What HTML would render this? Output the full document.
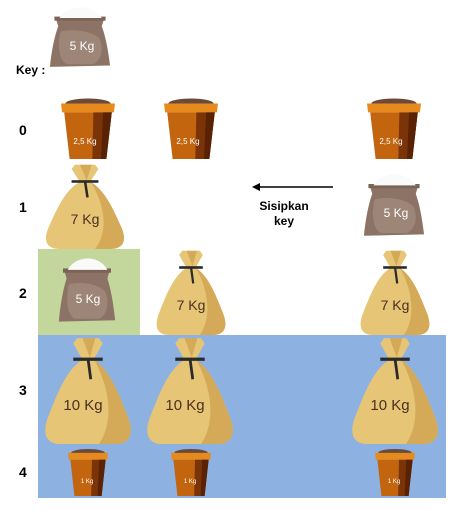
<!DOCTYPE html>
<html><head><meta charset="utf-8"><style>
body{margin:0;background:#fff;width:462px;height:505px;overflow:hidden}
text{font-family:"Liberation Sans",sans-serif}
</style></head><body>
<svg width="462" height="505" viewBox="0 0 462 505">
<defs>
<g id="bag">
<path d="M38,2 L62,2 L66,7 L56,22 C72,30 82,50 92,72 C102,92 94,100 80,100 L20,100 C6,100 -2,92 8,72 C18,50 28,30 44,22 L34,7 Z" fill="#e6c577"/>
<path d="M56,22 C72,30 82,50 92,72 C102,92 94,100 80,100 L62,100 C78,80 74,50 58,24 Z" fill="#d4aa59"/>
<path d="M44,2 L52,20 L58,2 Z" fill="#d4aa59"/>
<rect x="34" y="20" width="32" height="3" fill="#2a2a2a"/>
<path d="M50,21 L53,40" stroke="#2a2a2a" stroke-width="3"/>
</g>
<g id="sack">
<path d="M12,22 L88,22 L84,34 C92,55 95,78 97,92 L3,94 C5,75 9,52 16,34 Z" fill="#8c7365"/>
<path d="M20,42 C40,37 70,42 80,52 C88,66 84,85 70,90 L30,90 C15,85 15,56 20,42 Z" fill="#9d8578"/>
<rect x="10" y="20" width="80" height="6" fill="#7a6357"/>
<path d="M18,22 C30,2 70,0 84,22 Z" fill="#fafafa"/>
</g>
<g id="pot">
<ellipse cx="50" cy="12" rx="42" ry="8" fill="#6b4a3a"/>
<path d="M0,12 L100,12 L98,26 L2,26 Z" fill="#e68a1e"/>
<path d="M6,26 L94,26 L84,100 L16,100 Z" fill="#c2650e"/>
<path d="M60,26 L94,26 L84,100 L58,100 Z" fill="#7a3408"/>
<path d="M78,26 L94,26 L84,100 L74,100 Z" fill="#5a2204"/>
</g>
</defs>
<rect x="38" y="249" width="102" height="86" fill="#c3d69b"/>
<rect x="38" y="335" width="408" height="163" fill="#8db1e0"/>

<g>
<use href="#sack" transform="translate(48,3) scale(0.64,0.68)"/>
<text x="82" y="50" font-size="12" fill="#fff" text-anchor="middle">5 Kg</text>
</g>
<text x="16" y="74" font-size="12" font-weight="bold">Key :</text>

<g font-size="14" font-weight="bold">
<text x="19" y="135">0</text><text x="19" y="212">1</text><text x="19" y="298">2</text><text x="19" y="395">3</text><text x="19" y="477">4</text>
</g>

<g>
<use href="#pot" transform="translate(61,96) scale(0.54,0.63)"/>
<use href="#pot" transform="translate(164,96) scale(0.54,0.63)"/>
<use href="#pot" transform="translate(367,96) scale(0.54,0.63)"/>
<g font-size="8" fill="#fff" text-anchor="middle"><text x="85" y="144">2,5 Kg</text><text x="188" y="144">2,5 Kg</text><text x="391" y="144">2,5 Kg</text></g>
</g>

<g>
<use href="#bag" transform="translate(43,163) scale(0.84,0.86)"/>
<text x="85" y="224" font-size="14" fill="#4a3020" text-anchor="middle">7 Kg</text>
<use href="#sack" transform="translate(362,170) scale(0.64,0.7)"/>
<text x="396" y="217" font-size="12" fill="#fff" text-anchor="middle">5 Kg</text>
</g>
<g>
<line x1="333" y1="187" x2="258" y2="187" stroke="#000" stroke-width="1.5"/>
<path d="M252,187 L260,183 L260,191 Z" fill="#000"/>
</g>
<text x="284" y="210" font-size="12" font-weight="bold" text-anchor="middle"><tspan x="284">Sisipkan</tspan><tspan x="284" dy="15">key</tspan></text>

<g>
<use href="#sack" transform="translate(57,254) scale(0.6,0.72)"/>
<text x="88" y="303" font-size="12" fill="#fff" text-anchor="middle">5 Kg</text>
<use href="#bag" transform="translate(154,249) scale(0.74,0.86)"/>
<use href="#bag" transform="translate(358,249) scale(0.74,0.86)"/>
<g font-size="14" fill="#4a3020" text-anchor="middle"><text x="191" y="310">7 Kg</text><text x="395" y="310">7 Kg</text></g>
</g>

<g>
<use href="#bag" transform="translate(42,336) scale(0.92,1.08)"/>
<use href="#bag" transform="translate(144,336) scale(0.92,1.08)"/>
<use href="#bag" transform="translate(349,336) scale(0.92,1.08)"/>
<g font-size="15" fill="#4a3020" text-anchor="middle"><text x="83" y="410">10 Kg</text><text x="185" y="410">10 Kg</text><text x="390" y="410">10 Kg</text></g>
</g>

<g>
<use href="#pot" transform="translate(68,447) scale(0.4,0.49)"/>
<use href="#pot" transform="translate(171,447) scale(0.4,0.49)"/>
<use href="#pot" transform="translate(375,447) scale(0.4,0.49)"/>
<g font-size="6" fill="#fff" text-anchor="middle"><text x="87" y="483">1 Kg</text><text x="190" y="483">1 Kg</text><text x="394" y="483">1 Kg</text></g>
</g>
</svg>
</body></html>
